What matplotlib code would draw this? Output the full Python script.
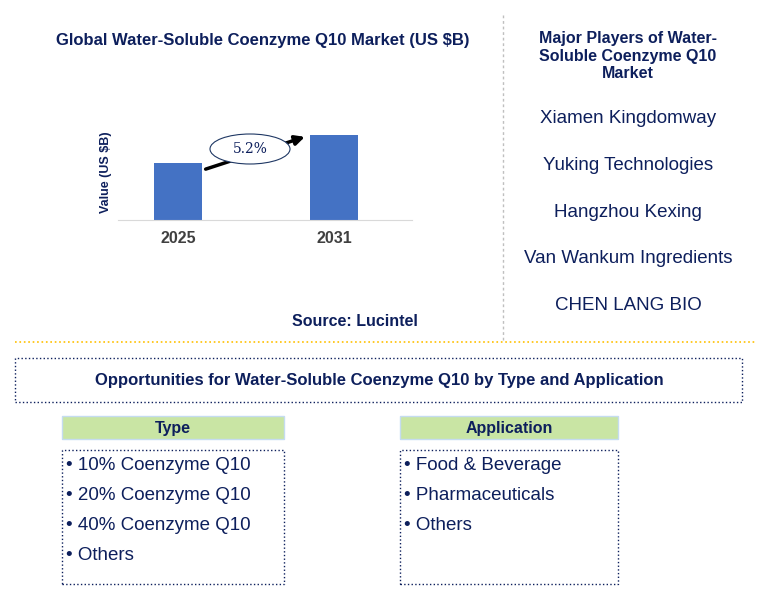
import matplotlib.pyplot as plt
from matplotlib.patches import Ellipse, Rectangle

plt.rcParams['font.family'] = 'Liberation Sans'

years = ['2025', '2031']
values = [0.57, 0.85]
cagr = '5.2%'
players = ['Xiamen Kingdomway', 'Yuking Technologies', 'Hangzhou Kexing',
           'Van Wankum Ingredients', 'CHEN LANG BIO']
types = ['10% Coenzyme Q10', '20% Coenzyme Q10', '40% Coenzyme Q10', 'Others']
applications = ['Food & Beverage', 'Pharmaceuticals', 'Others']

W, H = 769, 597
NAVY = '#0D1F5C'
fig = plt.figure(figsize=(W / 100, H / 100), dpi=100)


def fx(x):
    return x / W


def fy(y):
    return 1 - y / H


# bar chart
ax = fig.add_axes([fx(118), fy(220), fx(412) - fx(118), 95 / H])
ax.bar(range(len(years)), values, width=0.31, color='#4472C4')
ax.set_xlim(-0.385, 1.5)
ax.set_ylim(0, 0.95)
ax.set_xticks(range(len(years)))
ax.set_xticklabels(years, fontsize=11.5, fontweight='bold', color='#404040')
ax.set_yticks([])
ax.tick_params(axis='x', length=0, pad=8)
for s in ['top', 'right', 'left']:
    ax.spines[s].set_visible(False)
ax.spines['bottom'].set_color('#D9D9D9')
ax.set_ylabel('Value (US $B)', fontsize=9, fontweight='bold', color=NAVY)
ax.annotate('', xy=(0.83, values[1] - 0.01), xytext=(0.16, values[0] - 0.07),
            arrowprops=dict(arrowstyle='-|>', lw=2.5, color='black', mutation_scale=14))
fig.patches.append(Ellipse((fx(250), fy(149)), 80 / W, 30 / H, transform=fig.transFigure,
                           facecolor='white', edgecolor='#1F3864', lw=0.8))
fig.text(fx(250), fy(149), cagr, ha='center', va='center', fontsize=10, color=NAVY,
         family='DejaVu Serif')

fig.text(fx(263), fy(40), 'Global Water-Soluble Coenzyme Q10 Market (US $B)',
         ha='center', va='center', fontsize=12, fontweight='bold', color=NAVY)
fig.text(fx(355), fy(321), 'Source: Lucintel', ha='center', va='center',
         fontsize=11.5, fontweight='bold', color=NAVY)

# separators
fig.add_artist(plt.Line2D([fx(15), fx(755)], [fy(342), fy(342)], color='#FFC000',
                          ls=':', lw=1.2))
fig.add_artist(plt.Line2D([fx(503), fx(503)], [fy(15), fy(340)], color='#BFBFBF',
                          ls=(0, (2, 2)), lw=1))

# major players
fig.text(fx(628), fy(56), 'Major Players of Water-\nSoluble Coenzyme Q10\nMarket',
         ha='center', va='center', fontsize=11.5, fontweight='bold', color=NAVY,
         linespacing=1.2)
for i, p in enumerate(players):
    fig.text(fx(628), fy(119 + i * 46.5), p, ha='center', va='center',
             fontsize=13.5, color=NAVY)


def box(x0, y0, x1, y1, **kw):
    fig.patches.append(Rectangle((fx(x0), fy(y1)), fx(x1) - fx(x0), fy(y0) - fy(y1),
                                 transform=fig.transFigure, **kw))


box(15, 358, 742, 402, fill=False, edgecolor=NAVY, ls=':', lw=1)
fig.text(fx(379), fy(381), 'Opportunities for Water-Soluble Coenzyme Q10 by Type and Application',
         ha='center', va='center', fontsize=12, fontweight='bold', color=NAVY)

for x0, x1, head, items in [(62, 284, 'Type', types), (400, 618, 'Application', applications)]:
    box(x0, 416, x1, 439, facecolor='#C9E5A4', edgecolor='#C5DCF0', lw=1)
    fig.text(fx((x0 + x1) / 2), fy(429), head, ha='center', va='center',
             fontsize=11.5, fontweight='bold', color=NAVY)
    box(x0, 450, x1, 584, fill=False, edgecolor=NAVY, ls=':', lw=1)
    for i, it in enumerate(items):
        fig.text(fx(x0 + 4), fy(465 + i * 30), '• ' + it, ha='left', va='center',
                 fontsize=13.5, color=NAVY)

fig.savefig('out.png', dpi=100)
